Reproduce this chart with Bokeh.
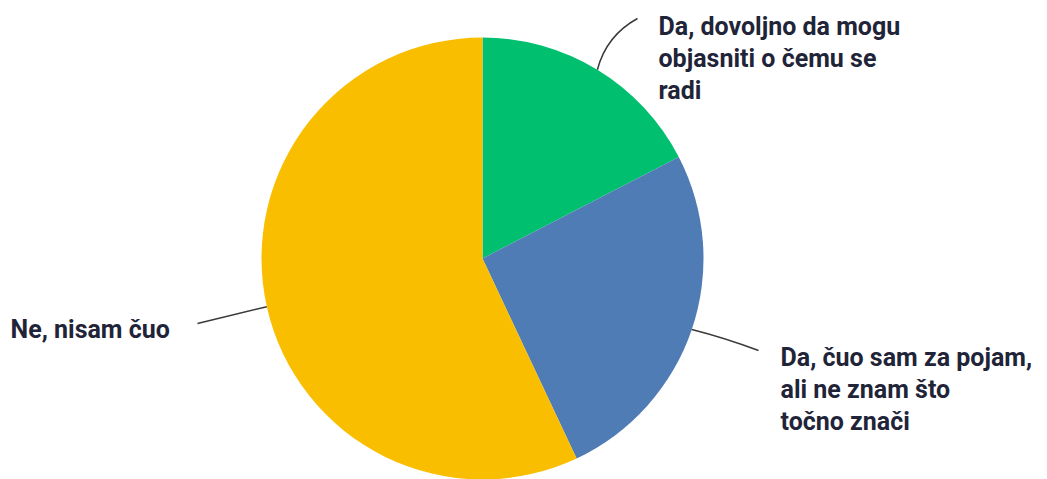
import numpy as np
from bokeh.plotting import figure
from bokeh.models import Range1d
from bokeh.embed import file_html
from bokeh.resources import INLINE
from bokeh.core.properties import value

# ---- data ----
categories = [
    ["Da, dovoljno da mogu", "objasniti o čemu se", "radi"],
    ["Da, čuo sam za pojam,", "ali ne znam što", "točno znači"],
    ["Ne, nisam čuo"],
]
shares = [17.4, 25.6, 57.0]
colors = ["#00BF6F", "#507CB6", "#F9BE00"]

# ---- layout (picture px -> data) ----
W, H = 1047, 479
def px(x):
    return x
def py(y):
    return H - y

cx, cy, R = px(482), py(258), 221

# label anchors (picture px): line end, text x, first text line centre,
# bend = sideways offset of the leader curve's control point (left of chord)
label_layout = [
    dict(end=(637, 18), tx=658, ty=26, align="left", bend=14),
    dict(end=(758, 350), tx=780, ty=357, align="left", bend=2),
    dict(end=(197, 323), tx=10, ty=329, align="left", bend=0),
]
line_gap = 32

p = figure(width=W, height=H, output_backend="svg", toolbar_location=None,
           x_range=Range1d(0, W), y_range=Range1d(0, H), min_border=0)
p.axis.visible = False
p.grid.visible = False
p.outline_line_color = None
p.background_fill_color = "white"

total = sum(shares)
cum = np.concatenate([[0], np.cumsum(shares)]) / total
starts = np.pi / 2 - cum[:-1] * 2 * np.pi
ends = np.pi / 2 - cum[1:] * 2 * np.pi

p.wedge(x=[cx] * len(shares), y=[cy] * len(shares), radius=R,
        start_angle=list(starts), end_angle=list(ends), direction="clock",
        fill_color=colors, line_color=None)

for i, lab in enumerate(categories):
    mid = (starts[i] + ends[i]) / 2
    sx, sy = cx + R * np.cos(mid), cy + R * np.sin(mid)
    L = label_layout[i]
    ex, ey = px(L["end"][0]), py(L["end"][1])
    mx, my = (sx + ex) / 2, (sy + ey) / 2
    dx, dy = ex - sx, ey - sy
    n = np.hypot(dx, dy)
    nx, ny = -dy / n, dx / n
    ctrlx = mx + L["bend"] * nx
    ctrly = my + L["bend"] * ny
    p.quadratic(x0=[sx], y0=[sy], x1=[ex], y1=[ey], cx=[ctrlx], cy=[ctrly],
                line_color="#3a3a3a", line_width=1.5)
    for j, t in enumerate(lab):
        p.text(x=[px(L["tx"])], y=[py(L["ty"] + j * line_gap)], text=[t],
               text_font=value("Roboto"), text_font_size="25px",
               text_font_style="bold", text_color="#1f2438",
               text_baseline="middle", text_align=L["align"])

open("out.html", "w").write(file_html(p, INLINE))
